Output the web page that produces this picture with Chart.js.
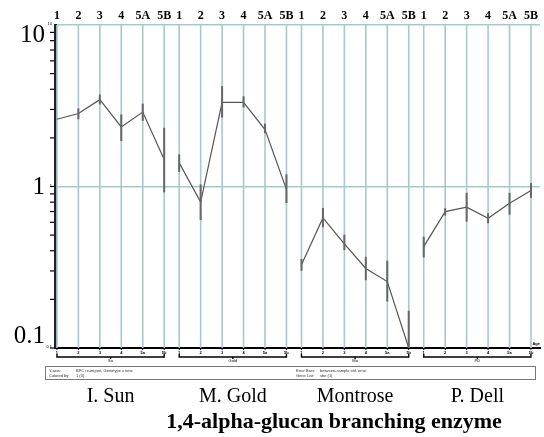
<!DOCTYPE html>
<html>
<head>
<meta charset="utf-8">
<script src="https://cdn.jsdelivr.net/npm/chart.js@4/dist/chart.umd.min.js"></script>
<style>
  html, body { margin: 0; padding: 0; background: #fff; }
  #wrap { width: 544px; height: 437px; }
</style>
</head>
<body>
<div id="wrap"><canvas id="infoChart" width="544" height="437"></canvas></div>
<script>
// categories
const groups = ['I. Sun', 'M. Gold', 'Montrose', 'P. Dell'];
const groupCodes = ['Su', 'Gold', 'Mo', 'PD'];
const stages = ['1', '2', '3', '4', '5A', '5B'];
const stageCodes = ['1', '2', '3', '4', '5a', '5b'];

// series: mean, lower and upper end of the error bar
const sunMean = [2.61, 2.83, 3.45, 2.34, 2.89, 1.47];
const sunLow  = [2.61, 2.61, 3.22, 1.91, 2.55, 0.92];
const sunHigh = [2.61, 3.04, 3.71, 2.79, 3.26, 2.31];

const goldMean = [1.40, 0.80, 3.32, 3.32, 2.25, 0.96];
const goldLow  = [1.23, 0.62, 2.67, 3.08, 2.14, 0.79];
const goldHigh = [1.58, 1.03, 4.18, 3.62, 2.45, 1.19];

const moMean = [0.328, 0.639, 0.441, 0.311, 0.258, 0.10];
const moLow  = [0.301, 0.559, 0.404, 0.263, 0.194, 0.06];
const moHigh = [0.356, 0.737, 0.503, 0.367, 0.347, 0.170];

const pdMean = [0.424, 0.699, 0.744, 0.636, 0.788, 0.944];
const pdLow  = [0.364, 0.661, 0.606, 0.592, 0.670, 0.851];
const pdHigh = [0.489, 0.733, 0.914, 0.683, 0.914, 1.05];

// y tick labels
const yTicks = [10, 1, 0.1];
const yTickLabels = ['10', '1', '0.1'];

const means = [sunMean, goldMean, moMean, pdMean];
const lows = [sunLow, goldLow, moLow, pdLow];
const highs = [sunHigh, goldHigh, moHigh, pdHigh];

const GROUP_STEP = 5.7; // spacing between group starts, in stage units
function xPos(g, i) { return g * GROUP_STEP + i; }

const grid = '#a9c8c8';

const datasets = means.map((m, g) => ({
    label: groups[g],
    data: m.map((v, i) => ({ x: xPos(g, i), y: v })),
    borderColor: '#555555',
    borderWidth: 1.2,
    pointRadius: 0,
    tension: 0,
    fill: false
}));

const extras = {
    id: 'extras',
    beforeDatasetsDraw(chart) {
        const ctx = chart.ctx, x = chart.scales.x, a = chart.chartArea;
        ctx.save();
        ctx.strokeStyle = grid;
        ctx.lineWidth = 1.6;
        groups.forEach((_, g) => stages.forEach((_, i) => {
            const px = x.getPixelForValue(xPos(g, i));
            ctx.beginPath();
            ctx.moveTo(px, a.top);
            ctx.lineTo(px, a.bottom);
            ctx.stroke();
        }));
        ctx.restore();
    },
    afterDatasetsDraw(chart) {
        const ctx = chart.ctx, x = chart.scales.x, y = chart.scales.y, a = chart.chartArea;
        ctx.save();
        ctx.beginPath();
        ctx.rect(a.left, a.top, a.right - a.left, a.bottom - a.top);
        ctx.clip();
        ctx.strokeStyle = '#666666';
        ctx.lineWidth = 2;
        means.forEach((m, g) => m.forEach((v, i) => {
            const px = x.getPixelForValue(xPos(g, i));
            ctx.beginPath();
            ctx.moveTo(px, y.getPixelForValue(lows[g][i]));
            ctx.lineTo(px, y.getPixelForValue(highs[g][i]));
            ctx.stroke();
        }));
        ctx.restore();
    },
    afterDraw(chart) {
        const ctx = chart.ctx, x = chart.scales.x, y = chart.scales.y, a = chart.chartArea;
        ctx.save();
        // minor ticks on the y axis
        ctx.strokeStyle = '#000';
        ctx.lineWidth = 1.2;
        [0.1, 1].forEach(d => {
            for (let k = 1; k <= 9; k++) {
                const py = y.getPixelForValue(d * k);
                ctx.beginPath();
                ctx.moveTo(a.left - 5, py);
                ctx.lineTo(a.left - 1, py);
                ctx.stroke();
            }
        });
        // big y labels
        const yOffsets = [10, 1, -12];
        ctx.fillStyle = '#000';
        ctx.font = '25px "Liberation Serif", "Times New Roman", serif';
        ctx.textAlign = 'right';
        ctx.textBaseline = 'middle';
        yTicks.forEach((t, k) => {
            ctx.fillText(yTickLabels[k], 45, y.getPixelForValue(t) + yOffsets[k]);
        });
        // tiny y labels by the axis
        ctx.font = '4px "Liberation Sans", Arial, sans-serif';
        yTicks.forEach((t, k) => {
            ctx.fillText(yTickLabels[k], a.left - 3, y.getPixelForValue(t) - 1);
        });
        // top stage labels
        ctx.font = 'bold 12px "Liberation Serif", "Times New Roman", serif';
        ctx.textAlign = 'center';
        ctx.textBaseline = 'alphabetic';
        groups.forEach((_, g) => stages.forEach((s, i) => {
            ctx.fillText(s, x.getPixelForValue(xPos(g, i)), 19);
        }));
        // bottom tick marks, tiny labels and group brackets
        groups.forEach((_, g) => {
            ctx.lineWidth = 1;
            stageCodes.forEach((s, i) => {
                const px = x.getPixelForValue(xPos(g, i));
                ctx.beginPath();
                ctx.moveTo(px, a.bottom);
                ctx.lineTo(px, a.bottom + 2);
                ctx.stroke();
                ctx.font = 'bold 4px "Liberation Sans", Arial, sans-serif';
                ctx.fillText(s, px, a.bottom + 6);
            });
            const x0 = x.getPixelForValue(xPos(g, 0));
            const x1 = x.getPixelForValue(xPos(g, 5));
            const xm = (x0 + x1) / 2;
            ctx.lineWidth = 1.4;
            ctx.beginPath();
            ctx.moveTo(x0, a.bottom + 6);
            ctx.lineTo(x0, a.bottom + 9);
            ctx.lineTo(x1, a.bottom + 9);
            ctx.lineTo(x1, a.bottom + 6);
            ctx.moveTo(xm, a.bottom + 9);
            ctx.lineTo(xm, a.bottom + 11);
            ctx.stroke();
            ctx.font = '4px "Liberation Sans", Arial, sans-serif';
            ctx.fillText(groupCodes[g], xm, a.bottom + 14);
            // group names
            ctx.font = '20px "Liberation Serif", "Times New Roman", serif';
            ctx.fillText(groups[g], xm, 402);
        });
        ctx.font = 'bold 4px "Liberation Sans", Arial, sans-serif';
        ctx.textAlign = 'right';
        ctx.fillText('Age', a.right, a.bottom - 3);
        // info box
        ctx.strokeStyle = '#777';
        ctx.lineWidth = 1;
        ctx.strokeRect(45.5, 366.5, 490, 13);
        ctx.fillStyle = '#333';
        ctx.textAlign = 'left';
        ctx.font = '4px "Liberation Sans", Arial, sans-serif';
        ctx.fillText('Y-axis:', 49, 372);
        ctx.fillText('BPC re-import, Genotype x time', 76, 372);
        ctx.fillText('Colored by:', 49, 377);
        ctx.fillText('1 (0)', 76, 377);
        ctx.fillText('Error Bars:', 296, 372);
        ctx.fillText('between-sample std. error', 320, 372);
        ctx.fillText('Gene List:', 296, 377);
        ctx.fillText('sbe (1)', 320, 377);
        // title
        ctx.fillStyle = '#000';
        ctx.textAlign = 'center';
        ctx.font = 'bold 22px "Liberation Serif", "Times New Roman", serif';
        ctx.fillText('1,4-alpha-glucan branching enzyme', 334, 428);
        ctx.restore();
    }
};

const ctx = document.getElementById('infoChart').getContext('2d');
const chart = new Chart(ctx, {
    type: 'line',
    data: { datasets: datasets },
    plugins: [extras],
    options: {
        responsive: false,
        animation: false,
        layout: { padding: { left: 55, top: 25, right: 4, bottom: 89 } },
        plugins: { legend: { display: false }, tooltip: { enabled: false } },
        scales: {
            x: {
                type: 'linear',
                min: -0.09,
                max: xPos(3, 5) + 0.42,
                ticks: { display: false },
                grid: { display: false },
                border: { color: '#000', width: 2 },
                afterFit(s) { s.height = 0; }
            },
            y: {
                type: 'logarithmic',
                min: 0.1,
                max: 10,
                afterBuildTicks(s) { s.ticks = yTicks.map(v => ({ value: v })); },
                ticks: { display: false },
                grid: {
                    drawTicks: false,
                    lineWidth: 1.4,
                    color: c => (c.tick && c.tick.value > 0.5) ? grid : 'rgba(0,0,0,0)'
                },
                border: { color: '#222', width: 3 },
                afterFit(s) { s.width = 0; }
            }
        }
    }
});
</script>
</body>
</html>
